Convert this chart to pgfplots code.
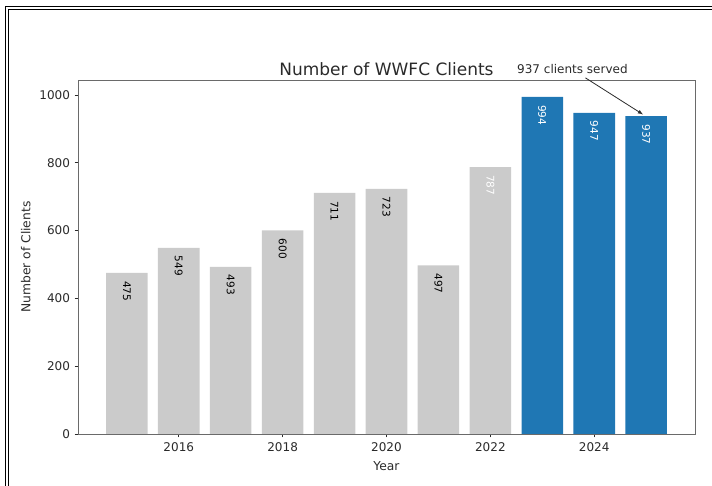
\documentclass[border=0pt]{standalone}
\usepackage{fontspec}
\setmainfont{DejaVu Sans}
\usepackage{pgfplots}
\pgfplotsset{compat=1.18}
\definecolor{mplblue}{HTML}{1F77B4}
\definecolor{barg}{HTML}{CBCBCB}
\definecolor{txt}{HTML}{2A2A2A}
\tikzset{vl/.style={rotate=-90, anchor=west, inner sep=0pt, font=\fontsize{10.5}{12}\selectfont}}
\begin{document}
\begin{tikzpicture}
\useasboundingbox (0,0) rectangle (712pt,486pt);
% screenshot frame (top and left double line)
\draw[line width=0.8pt] (5pt,0) -- (5pt,480pt) -- (712pt,480pt);
\draw[line width=0.8pt] (8pt,0) -- (8pt,477pt) -- (712pt,477pt);
\begin{axis}[
  at={(78pt,52pt)}, anchor=south west,
  scale only axis, width=617pt, height=354pt,
  xmin=2014.06, xmax=2025.94, ymin=0, ymax=1043.7,
  xtick={2016,2018,2020,2022,2024},
  ytick={0,200,400,600,800,1000},
  xtick pos=left, ytick pos=left,
  tick align=outside, major tick length=3.5pt,
  tick style={color=txt, line width=0.6pt},
  axis line style={color=txt!70, line width=0.8pt},
  /pgf/number format/assume math mode=true,
  /pgf/number format/1000 sep={},
  ticklabel style={font=\fontsize{12}{14}\selectfont, color=txt},
  xticklabel style={yshift=-2pt},
  yticklabel style={xshift=-1pt},
  xlabel={Year}, ylabel={Number of Clients},
  label style={font=\fontsize{12.3}{14}\selectfont, color=txt},
  xlabel style={yshift=-3pt},
  ylabel style={yshift=2pt},
  title={Number of WWFC Clients},
  title style={font=\fontsize{17}{20}\selectfont, color=txt, yshift=-5pt},
  ybar, bar width=0.8, bar shift=0pt,
  clip=false,
]
\addplot[fill=barg, draw=none] coordinates {
  (2015,475) (2016,549) (2017,493) (2018,600) (2019,711) (2020,723) (2021,497) (2022,787)
};
\addplot[fill=mplblue, draw=none] coordinates {
  (2023,994) (2024,947) (2025,937)
};
% value labels
\node[vl, text=black] at ([yshift=-8pt]axis cs:2015,475) {475};
\node[vl, text=black] at ([yshift=-8pt]axis cs:2016,549) {549};
\node[vl, text=black] at ([yshift=-8pt]axis cs:2017,493) {493};
\node[vl, text=black] at ([yshift=-8pt]axis cs:2018,600) {600};
\node[vl, text=black] at ([yshift=-8pt]axis cs:2019,711) {711};
\node[vl, text=black] at ([yshift=-8pt]axis cs:2020,723) {723};
\node[vl, text=black] at ([yshift=-8pt]axis cs:2021,497) {497};
\node[vl, text=white] at ([yshift=-8pt]axis cs:2022,787) {787};
\node[vl, text=white] at ([yshift=-8pt]axis cs:2023,994) {994};
\node[vl, text=white] at ([yshift=-8pt]axis cs:2024,947) {947};
\node[vl, text=white] at ([yshift=-8pt]axis cs:2025,937) {937};
\node[font=\fontsize{12}{14}\selectfont, color=txt] at (axis cs:2023.58,1077) {937 clients served};
\draw[-latex, line width=0.8pt, color=txt] (axis cs:2023.83,1050) -- (axis cs:2024.94,942);
\end{axis}
\end{tikzpicture}
\end{document}
